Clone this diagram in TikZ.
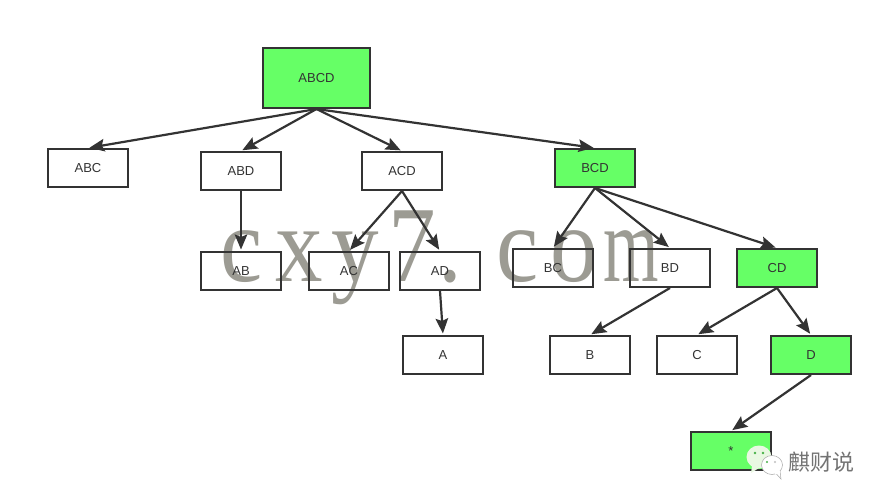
\documentclass[tikz,border=0pt]{standalone}
\usepackage{fontspec}
\usepackage{graphicx}
\setmainfont{Liberation Sans}
\newfontfamily\wmfont{Liberation Serif}
\newfontfamily\cjkfont{Noto Sans CJK SC}
\usetikzlibrary{arrows.meta}
\definecolor{ink}{HTML}{333333}
\definecolor{leaf}{HTML}{66FF66}
\definecolor{wm}{HTML}{9C9B93}
\definecolor{bubble}{HTML}{E9F8E2}
\newcommand{\wmch}[2]{\makebox[#1pt][l]{\scalebox{0.88}[1]{#2}}}
\tikzset{
  plainbox/.style={draw=ink,line width=2pt,minimum width=80pt,minimum height=38pt,inner sep=0pt,text=ink,font=\fontsize{13}{15}\selectfont},
  hitbox/.style={plainbox,fill=leaf},
  edge/.style={draw=ink,line width=2.2pt,-{Stealth[length=15pt,width=12.5pt,inset=2.5pt]},shorten >=1.5pt},
  wmtext/.style={text=wm,inner sep=0pt,anchor=base west,font=\wmfont\fontsize{108}{108}\selectfont},
}
\begin{document}
\begin{tikzpicture}[x=1pt,y=-1pt]
\useasboundingbox (0,0) rectangle (883,502);
\node[wmtext] (mark) at (220.6,282) {\wmch{54.9}{c}\wmch{55.3}{x}\wmch{57.5}{y}\wmch{49.5}{7}\wmch{58.8}{.}\wmch{53.7}{c}\wmch{53.3}{o}\makebox[56pt][l]{\scalebox{0.66}[1]{m}}};
\node[hitbox,minimum width=107pt,minimum height=60pt] (abcd) at (316.5,78) {ABCD};
\node[plainbox] (abc) at (88,168) {ABC};
\node[plainbox] (abd) at (241,171) {ABD};
\node[plainbox] (acd) at (402,171) {ACD};
\node[hitbox] (bcd) at (595,168) {BCD};
\node[plainbox] (ab) at (241,271) {AB};
\node[plainbox] (ac) at (349,271) {AC};
\node[plainbox] (ad) at (440,271) {AD};
\node[plainbox] (bc) at (553,268) {BC};
\node[plainbox] (bd) at (670,268) {BD};
\node[hitbox] (cd) at (777,268) {CD};
\node[plainbox] (a) at (443,355) {A};
\node[plainbox] (b) at (590,355) {B};
\node[plainbox] (c) at (697,355) {C};
\node[hitbox] (d) at (811,355) {D};
\node[hitbox] (star) at (731,451) {*};
\foreach \p/\q in {abcd/abc,abcd/abd,abcd/acd,abcd/bcd,abd/ab,acd/ac,acd/ad,ad/a,bcd/bc,bcd/bd,bcd/cd,bd/b,cd/c,cd/d,d/star}
  \draw[edge] (\p.south) -- (\q.north);
% WeChat mark
\fill[bubble] (759,457) ellipse (12.5pt and 11.5pt);
\fill[bubble] (752,466) -- (751,473) -- (759,468) -- cycle;
\fill[leaf!70!black] (755,453) circle (1.3pt) (763,453) circle (1.3pt);
\filldraw[draw=black!35,fill=white,line width=.5pt] (776,473.5) -- (781,479) -- (780,471) -- cycle;
\filldraw[draw=black!35,fill=white,line width=.5pt] (772,465) ellipse (10.5pt and 9.5pt);
\fill[white] (775,471) rectangle (780,474);
\fill[leaf!70!black] (767,462) circle (1.2pt);
\fill[black!25] (775,462) circle (1.2pt);
\node[text=black!55,inner sep=0pt,font=\cjkfont\fontsize{22}{24}\selectfont] (brand) at (821,462) {麒财说};
\end{tikzpicture}
\end{document}
